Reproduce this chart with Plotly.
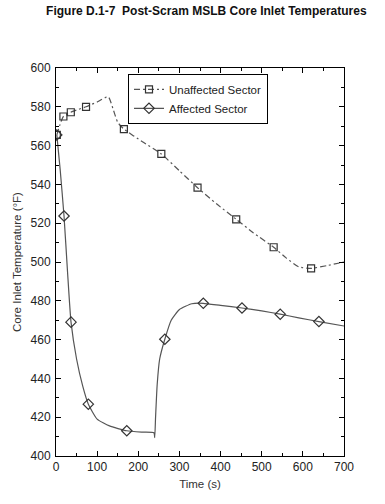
import plotly.graph_objects as go

# Unaffected sector (dense curve)
unaff_t = [2, 10, 18, 36, 55, 73, 100, 127, 140, 150, 165, 210, 256, 300, 344, 390, 438, 480, 529, 560, 590, 620, 660, 700]
unaff_T = [565.5, 571, 575, 577.2, 578.7, 580, 582.5, 585.2, 578, 572, 568.5, 562, 555.7, 547, 538.3, 530, 522, 515, 507.6, 502, 497.5, 496.7, 498.2, 500]
# Unaffected sector markers
unaff_mt = [2, 18, 36, 73, 165, 256, 344, 438, 529, 620]
unaff_mT = [565.5, 575, 577.2, 580, 568.5, 555.7, 538.3, 522, 507.6, 496.7]

# Affected sector (dense curve)
aff_t = [2, 10, 19.5, 28, 36.5, 50, 65, 78.6, 100, 130, 172, 210, 238, 240, 242, 246, 252, 264.5, 280, 300, 330, 358, 400, 452, 500, 545, 590, 639, 700]
aff_T = [565.5, 548, 523.7, 495, 469, 450, 436, 426.7, 419, 415.5, 413, 412.3, 412, 409.5, 420, 437, 450, 460.2, 470, 475.5, 478.5, 478.7, 477.6, 476.3, 474.8, 473.1, 471.2, 469.3, 467]
# Affected sector markers
aff_mt = [2, 19.5, 36.5, 78.6, 172, 264.5, 358, 452, 545, 639]
aff_mT = [565.5, 523.7, 469, 426.7, 413, 460.2, 478.7, 476.3, 473.1, 469.3]

x_ticks = [0, 100, 200, 300, 400, 500, 600, 700]
y_ticks = [400, 420, 440, 460, 480, 500, 520, 540, 560, 580, 600]

line_col = "#555555"
mk_col = "#333333"
dashdot = "6px,3px,2px,3px"
FONT = "Liberation Sans, Arial"

fig = go.Figure()
fig.add_trace(go.Scatter(x=unaff_t, y=unaff_T, mode="lines", line=dict(color=line_col, width=1.2, dash=dashdot, shape="spline", smoothing=0.5), showlegend=False, hoverinfo="skip"))
fig.add_trace(go.Scatter(x=aff_t, y=aff_T, mode="lines", line=dict(color=line_col, width=1.2, shape="spline", smoothing=0.5), showlegend=False, hoverinfo="skip"))
fig.add_trace(go.Scatter(x=unaff_mt, y=unaff_mT, mode="markers", marker=dict(symbol="square-open", size=7, color=mk_col, line=dict(width=1.2)), showlegend=False))
fig.add_trace(go.Scatter(x=aff_mt, y=aff_mT, mode="markers", marker=dict(symbol="diamond-open", size=8, color=mk_col, line=dict(width=1.2)), showlegend=False))
# legend entries
fig.add_trace(go.Scatter(x=[None], y=[None], mode="lines+markers", name="Unaffected Sector",
                         line=dict(color=line_col, width=1.2, dash=dashdot),
                         marker=dict(symbol="square-open", size=7, color=mk_col, line=dict(width=1.2))))
fig.add_trace(go.Scatter(x=[None], y=[None], mode="lines+markers", name="Affected Sector",
                         line=dict(color=line_col, width=1.2),
                         marker=dict(symbol="diamond-open", size=8, color=mk_col, line=dict(width=1.2))))

axis_common = dict(showgrid=False, zeroline=False, showline=True, linecolor="black", linewidth=1,
                   mirror="ticks", ticks="inside", ticklen=5, tickcolor="black", automargin=False,
                   tickfont=dict(family=FONT, size=12, color="#222"))

fig.update_xaxes(range=[0, 700], tickvals=x_ticks, minor=dict(ticks="inside", ticklen=3, dtick=50, tickcolor="black"),
                 title=dict(text="Time (s)", font=dict(family=FONT, size=11.5, color="#333"), standoff=6),
                 **axis_common)
fig.update_yaxes(range=[400, 600], tickvals=y_ticks, minor=dict(ticks="inside", ticklen=3, dtick=10, tickcolor="black"),
                 title=dict(text="Core Inlet Temperature (°F)", font=dict(family=FONT, size=11.5, color="#333"), standoff=6),
                 ticklabelstandoff=2,
                 **axis_common)

fig.update_layout(
    width=385, height=504,
    margin=dict(l=56, r=41, t=68, b=48),
    paper_bgcolor="white", plot_bgcolor="white",
    title=dict(text="<b>Figure D.1-7  Post-Scram MSLB Core Inlet Temperatures</b>", x=0.536, xanchor="center", y=0.979, yanchor="middle",
               font=dict(family=FONT, size=12, color="#111")),
    legend=dict(x=0.25, y=0.985, xanchor="left", yanchor="top", bordercolor="black", borderwidth=1, bgcolor="white",
                font=dict(family=FONT, size=11.5, color="#222"), tracegroupgap=0, itemwidth=30),
)

fig.write_html("out.html", config={"displayModeBar": False}, post_script="document.body.style.margin='0';")
